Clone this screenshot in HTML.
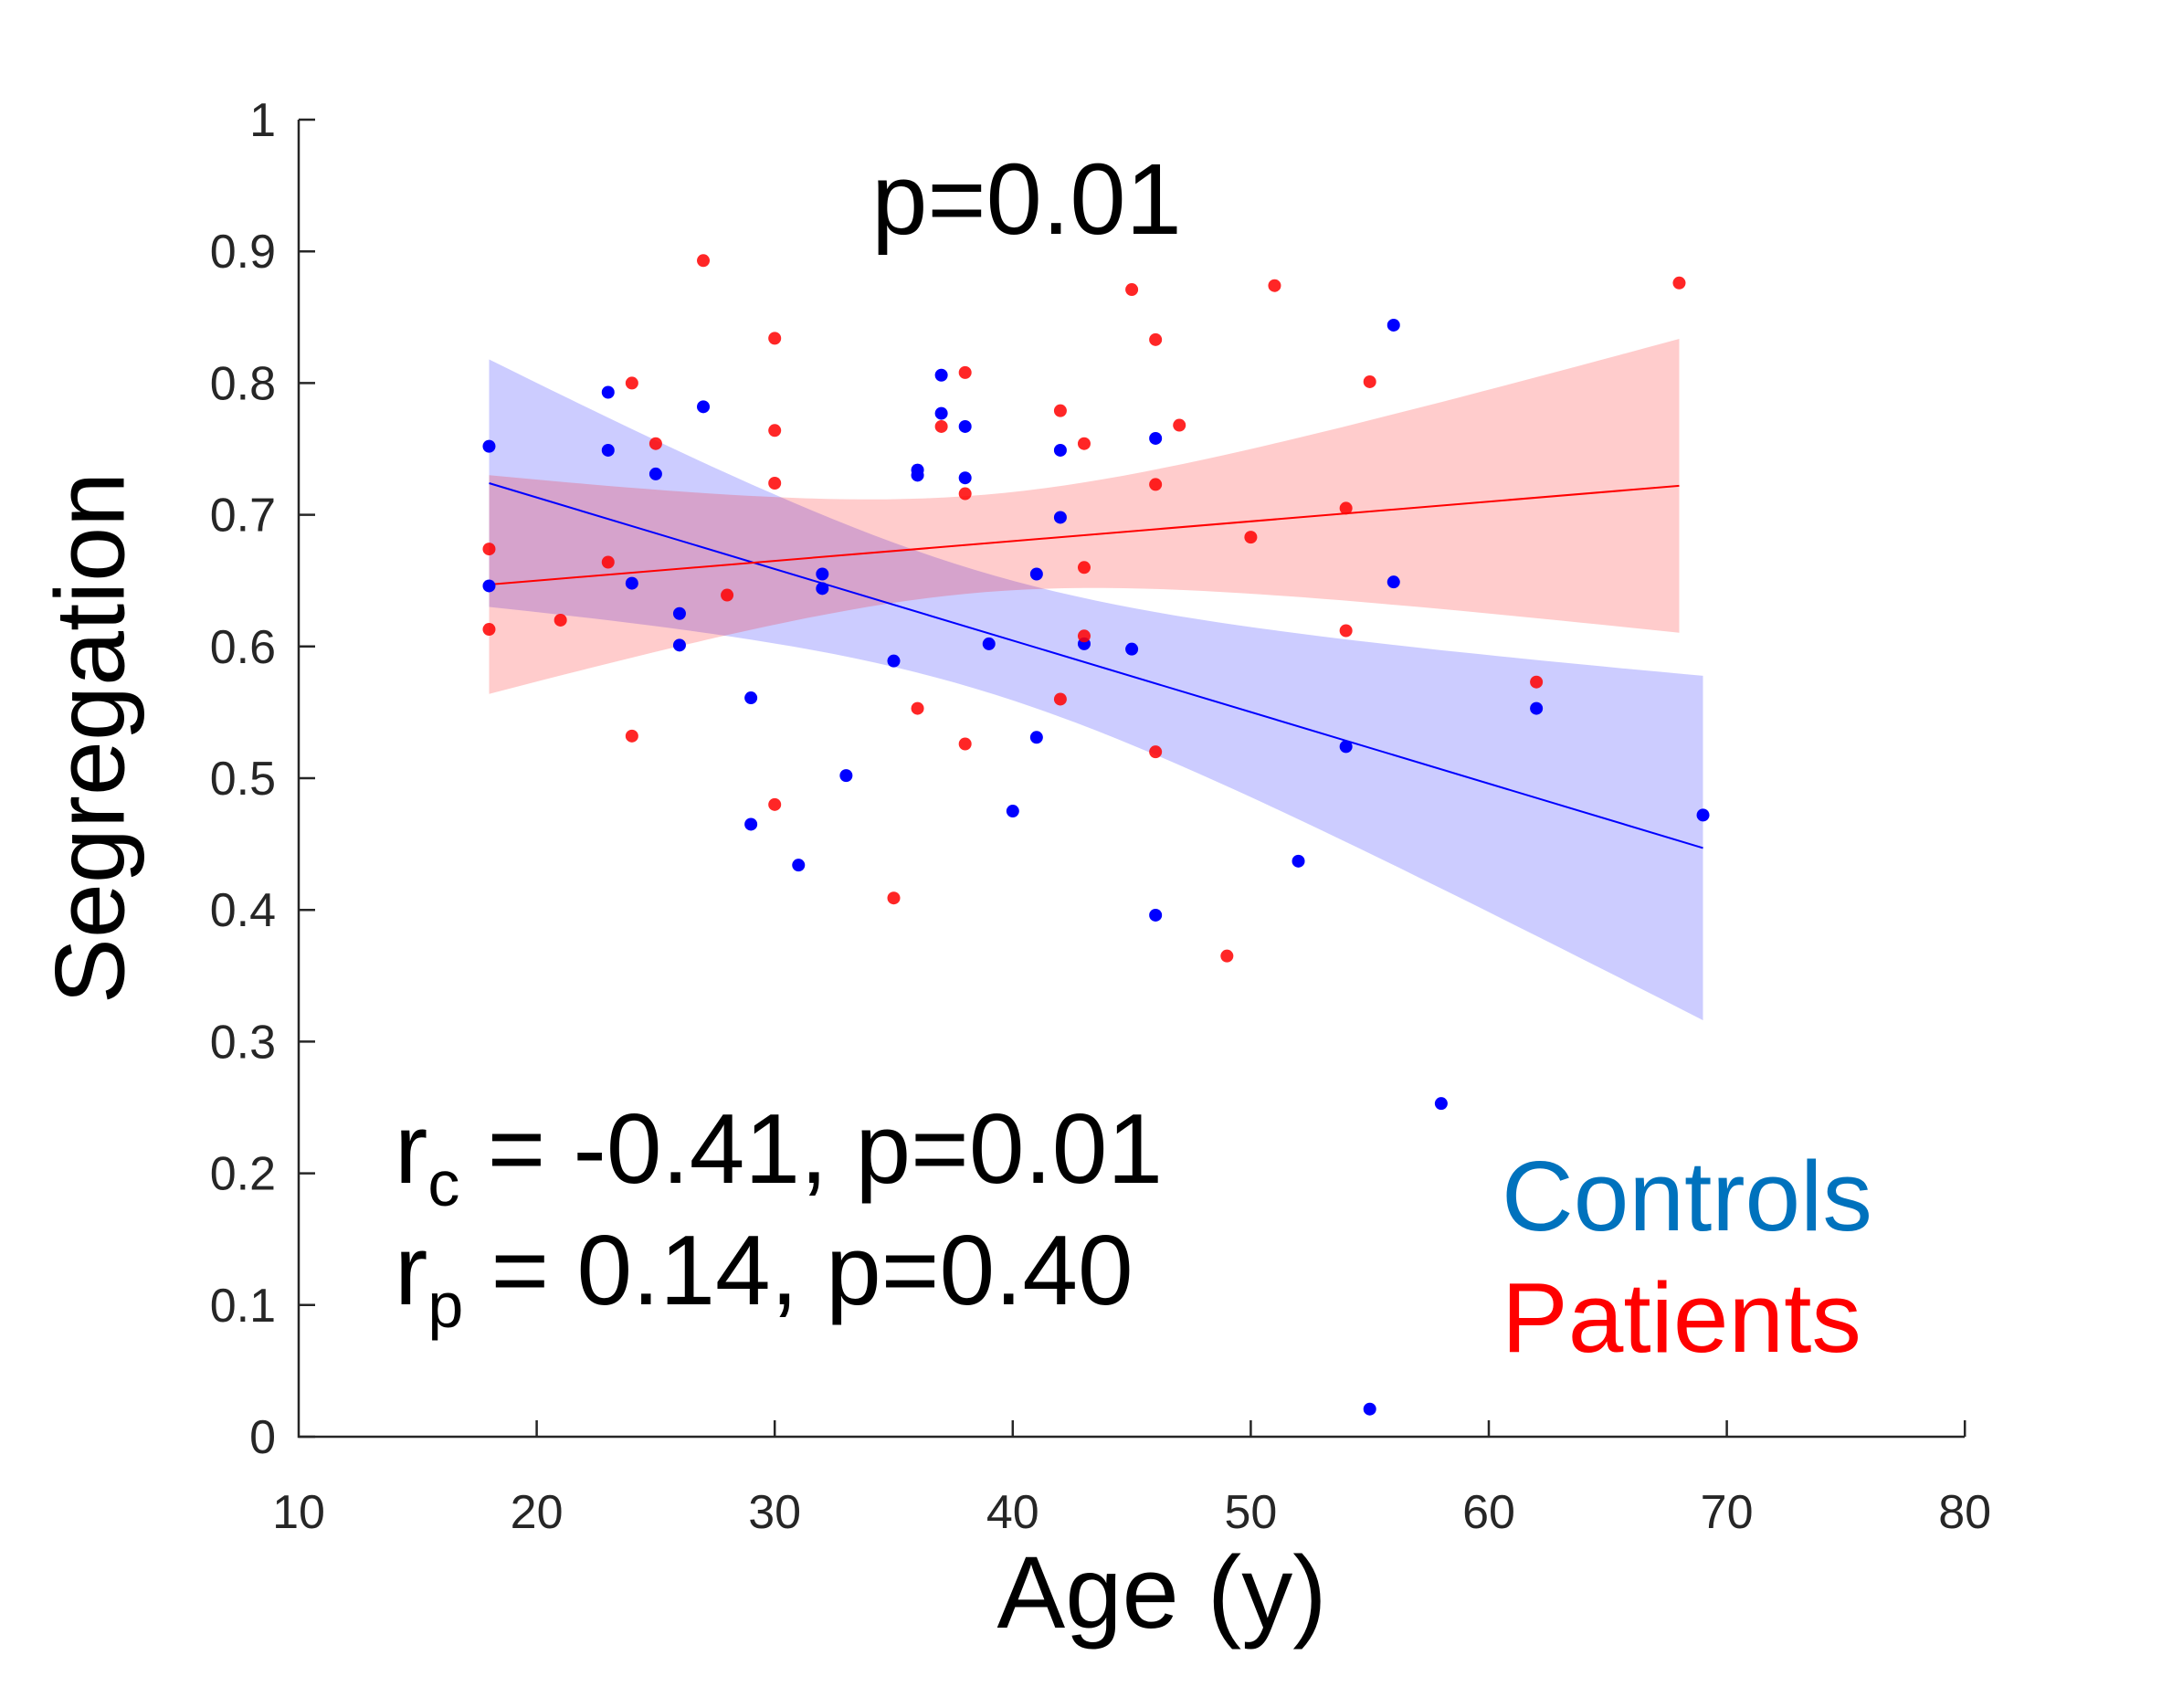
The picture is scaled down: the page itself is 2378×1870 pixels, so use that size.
<!DOCTYPE html>
<html><head><meta charset="utf-8"><style>
html,body{margin:0;padding:0;background:#fff;}
svg{display:block;font-family:"Liberation Sans",Arial,sans-serif;}
</style></head><body>
<svg id="s" width="2378" height="1870" viewBox="0 0 2378 1870" xmlns="http://www.w3.org/2000/svg">
<rect width="2378" height="1870" fill="#fff"/>
<g id="bands"></g>
<g id="lines"></g>
<g id="dots"></g>
<g id="axes" stroke="#262626" stroke-width="2.5" fill="none"></g>
<g id="labels" fill="#262626" font-size="52"></g>
<text x="107" y="808" font-size="108" fill="#000" text-anchor="middle" transform="rotate(-90 107 808)" dominant-baseline="middle">Segregation</text>
<text x="1272" y="1782" font-size="112" fill="#000" text-anchor="middle">Age (y)</text>
<text x="1124" y="256" font-size="110" fill="#000" text-anchor="middle">p=0.01</text>
<text x="432" y="1295" font-size="109" fill="#000">r<tspan font-size="70" dy="25">c</tspan><tspan dy="-25"> = -0.41, p=0.01</tspan></text>
<text x="432" y="1428" font-size="109" fill="#000">r<tspan font-size="70" dy="25">p</tspan><tspan dy="-25"> = 0.14, p=0.40</tspan></text>
<text x="1644" y="1347" font-size="109" fill="#0072BD">Controls</text>
<text x="1644" y="1480" font-size="109" fill="#FF0000">Patients</text>
</svg>
<script>
const NS="http://www.w3.org/2000/svg";
const X=a=>327+(a-10)*26.06, Y=v=>1573-v*1442;
function el(p,t,at){const e=document.createElementNS(NS,t);for(const k in at)e.setAttribute(k,at[k]);document.getElementById(p).appendChild(e);return e;}
function band(x0,x1,y0,y1,m,h0,k,col){
 let up=[],lo=[];
 for(let i=0;i<=60;i++){const a=x0+(x1-x0)*i/60;const c=y0+(y1-y0)*(a-x0)/(x1-x0);const h=Math.sqrt(h0*h0+k*(a-m)*(a-m));up.push(X(a).toFixed(1)+","+Y(c+h).toFixed(1));lo.unshift(X(a).toFixed(1)+","+Y(c-h).toFixed(1));}
 el("bands","polygon",{points:up.concat(lo).join(" "),fill:col,"fill-opacity":0.2});
 el("lines","line",{x1:X(x0),y1:Y(y0),x2:X(x1),y2:Y(y1),stroke:col,"stroke-width":2});
}
band(18,69,0.724,0.447,38.5,0.045,1.62e-5,"#0000FF");
band(18,68,0.647,0.722,38.7,0.037,1.29e-5,"#FF0000");
const blue=[[18,.752],[18,.646],[23,.793],[23,.749],[24,.648],[25,.731],[26,.625],[26,.601],[27,.782],[29,.561],[29,.465],[31,.434],[32,.655],[32,.644],[33,.502],[35,.589],[36,.734],[36,.730],[37,.806],[37,.777],[38,.767],[38,.728],[39,.602],[40,.475],[41,.655],[41,.531],[42,.749],[42,.698],[43,.602],[45,.598],[46,.758],[46,.396],[52,.437],[54,.524],[55,.021],[56,.844],[56,.649],[58,.253],[62,.553],[69,.472]];
const red=[[18,.674],[18,.613],[21,.620],[23,.664],[24,.800],[24,.532],[25,.754],[27,.893],[28,.639],[30,.834],[30,.764],[30,.724],[30,.480],[35,.409],[36,.553],[37,.767],[38,.808],[38,.716],[38,.526],[42,.779],[42,.560],[43,.754],[43,.660],[43,.608],[45,.871],[46,.833],[46,.723],[46,.520],[47,.768],[49,.365],[50,.683],[51,.874],[54,.705],[54,.612],[55,.801],[62,.573],[68,.876]];
blue.forEach(p=>el("dots","circle",{cx:X(p[0]),cy:Y(p[1]),r:7,fill:"#0000FF"}));
red.forEach(p=>el("dots","circle",{cx:X(p[0]),cy:Y(p[1]),r:7,fill:"#FF0000","fill-opacity":0.85}));
el("axes","path",{d:"M327,131 L327,1573 L2151,1573"});
for(let i=0;i<=10;i++){const y=Y(i/10);el("axes","line",{x1:327,y1:y,x2:345,y2:y});
 const t=el("labels","text",{x:302,y:y+18,"text-anchor":"end"});t.textContent=i==0?"0":i==10?"1":(i/10).toFixed(1);}
for(let a=10;a<=80;a+=10){const x=X(a);if(a>10)el("axes","line",{x1:x,y1:1573,x2:x,y2:1555});
 const t=el("labels","text",{x:x,y:1673,"text-anchor":"middle"});t.textContent=a;}
</script>
</body></html>
